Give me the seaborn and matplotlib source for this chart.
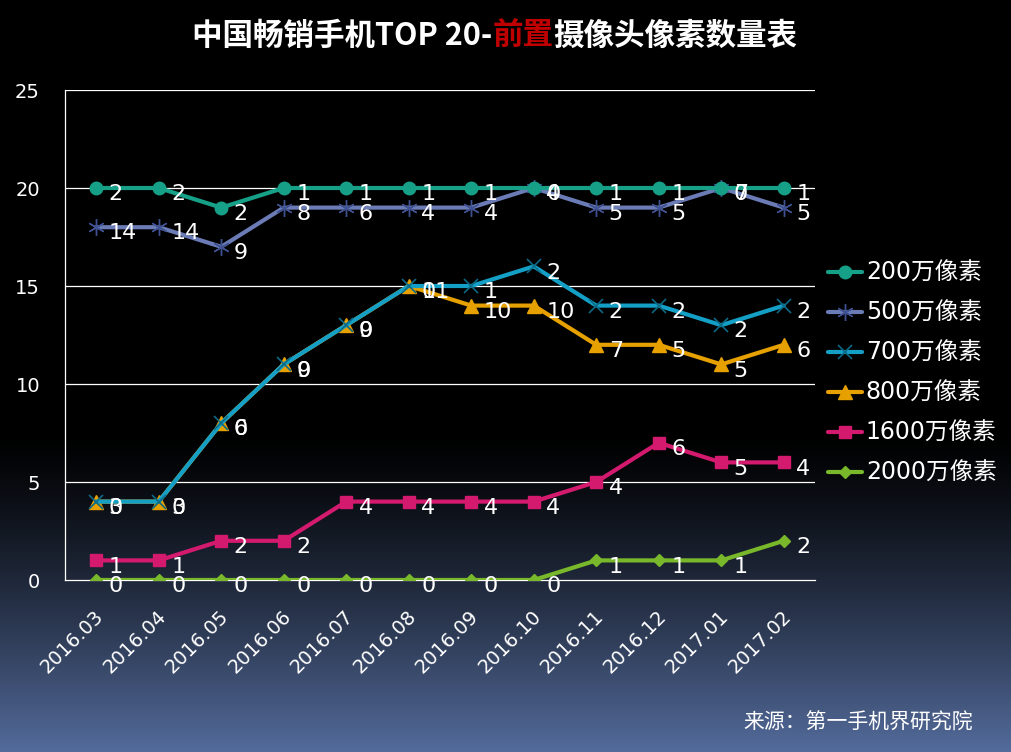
import numpy as np
import pandas as pd
import matplotlib
matplotlib.use("Agg")
import matplotlib.pyplot as plt
import matplotlib.transforms as mtransforms
from matplotlib.offsetbox import TextArea, HPacker, AnchoredOffsetbox
import seaborn as sns

# ---------------- data ----------------
months = ["2016.03", "2016.04", "2016.05", "2016.06", "2016.07", "2016.08",
          "2016.09", "2016.10", "2016.11", "2016.12", "2017.01", "2017.02"]
legend_order = ["200万像素", "500万像素", "700万像素", "800万像素", "1600万像素", "2000万像素"]
stack_order = ["2000万像素", "1600万像素", "800万像素", "700万像素", "500万像素", "200万像素"]

px_200 = [2, 2, 2, 1, 1, 1, 1, 0, 1, 1, 0, 1]
px_500 = [14, 14, 9, 8, 6, 4, 4, 4, 5, 5, 7, 5]
px_700 = [0, 0, 0, 0, 0, 0, 1, 2, 2, 2, 2, 2]
px_800 = [3, 3, 6, 9, 9, 11, 10, 10, 7, 5, 5, 6]
px_1600 = [1, 1, 2, 2, 4, 4, 4, 4, 4, 6, 5, 4]
px_2000 = [0, 0, 0, 0, 0, 0, 0, 0, 1, 1, 1, 2]

title_parts = ["中国畅销手机TOP 20-", "前置", "摄像头像素数量表"]
source_text = "来源：第一手机界研究院"

values = {
    "200万像素": px_200, "500万像素": px_500, "700万像素": px_700,
    "800万像素": px_800, "1600万像素": px_1600, "2000万像素": px_2000,
}

styles = {
    "200万像素": dict(color="#17A088", marker="o", markersize=9, mec="#17A088", mew=1),
    "500万像素": dict(color="#6A7BB5", marker=(6, 2, 0), markersize=12, mec="#3F5190", mew=1.0),
    "700万像素": dict(color="#14A0C6", marker="x", markersize=10, mec="#0C6A86", mew=1.2),
    "800万像素": dict(color="#E6A100", marker="^", markersize=10, mec="#E6A100", mew=1),
    "1600万像素": dict(color="#D41A6E", marker="s", markersize=9, mec="#D41A6E", mew=1),
    "2000万像素": dict(color="#78B82A", marker="D", markersize=6, mec="#78B82A", mew=1),
}

# stacked (cumulative) values
rows = []
cum = np.zeros(len(months))
for name in stack_order:
    v = np.array(values[name], dtype=float)
    cum = cum + v
    for i, m in enumerate(months):
        rows.append(dict(series=name, idx=i, month=m, value=v[i], cum=cum[i]))
df = pd.DataFrame(rows)

# ---------------- style ----------------
sns.set_theme(style="white")
plt.rcParams["font.family"] = ["DejaVu Sans", "Noto Sans CJK SC"]
plt.rcParams["axes.unicode_minus"] = False

fig = plt.figure(figsize=(10.12, 7.52), dpi=100)

# gradient background
bg = fig.add_axes([0, 0, 1, 1], zorder=-10)
H = 752
yy = np.arange(H)
t = np.clip((yy - 430) / (H - 430), 0, 1) ** 1.3
bottom = np.array([84, 108, 156]) / 255.0
grad = t[:, None] * bottom[None, :]
img = np.repeat(grad[:, None, :], 4, axis=1)
bg.imshow(img, aspect="auto", extent=[0, 1, 0, 1], origin="upper")
bg.set_axis_off()

ax = fig.add_axes([65 / 1012, 1 - 580 / 752, 750 / 1012, 490 / 752])
ax.set_facecolor("none")

zorders = {name: 10 - k for k, name in enumerate(legend_order)}
for name in stack_order:
    d = df[df.series == name]
    st = styles[name]
    sns.lineplot(data=d, x="idx", y="cum", ax=ax, color=st["color"],
                 marker=st["marker"], markersize=st["markersize"],
                 markeredgecolor=st["mec"], markeredgewidth=st["mew"],
                 markerfacecolor=st["color"],
                 linewidth=3, label=name, zorder=zorders[name], legend=True)
    for _, r in d.iterrows():
        ax.annotate(f"{int(r['value'])}", (r["idx"], r["cum"]),
                    xytext=(9, -4.5), textcoords="offset points",
                    ha="left", va="center", color="white", fontsize=16,
                    zorder=20)

ax.set_xlim(-0.5, 11.5)
ax.set_ylim(0, 25)
ax.set_yticks([0, 5, 10, 15, 20, 25])
ax.set_xticks(range(len(months)))
ax.set_xticklabels(months)
ax.set_xlabel("")
ax.set_ylabel("")
ax.grid(False)
for yv in [5, 10, 15, 20, 25]:
    ax.axhline(yv, color="white", lw=0.9, zorder=0.5)
for s in ["top", "right"]:
    ax.spines[s].set_visible(False)
for s in ["left", "bottom"]:
    ax.spines[s].set_visible(True)
    ax.spines[s].set_color("white")
    ax.spines[s].set_linewidth(0.9)

ax.tick_params(axis="y", length=0, pad=18, labelsize=14, colors="white")
ax.tick_params(axis="x", length=0, pad=19, labelsize=14, colors="white")
offset = mtransforms.ScaledTranslation(-2 / 100, 0, fig.dpi_scale_trans)
for lab in ax.get_xticklabels():
    lab.set_rotation(45)
    lab.set_ha("right")
    lab.set_va("top")
    lab.set_rotation_mode("anchor")
    lab.set_transform(lab.get_transform() + offset)

# legend
handles, labels = ax.get_legend_handles_labels()
hmap = dict(zip(labels, handles))
leg = ax.legend([hmap[n] for n in legend_order], legend_order,
                loc="center left", bbox_to_anchor=(828 / 1012, 1 - 373 / 752),
                bbox_transform=fig.transFigure, frameon=False, fontsize=17,
                labelspacing=0.68, handlelength=1.45, handletextpad=0.15,
                borderpad=0, borderaxespad=0)
for txt in leg.get_texts():
    txt.set_color("white")

# title with red part
tprops = dict(fontsize=22, fontweight="bold", family=["Noto Sans CJK SC", "DejaVu Sans"])
parts = [
    TextArea(title_parts[0], textprops=dict(color="white", **tprops)),
    TextArea(title_parts[1], textprops=dict(color="#C00000", **tprops)),
    TextArea(title_parts[2], textprops=dict(color="white", **tprops)),
]
box = HPacker(children=parts, align="baseline", pad=0, sep=0)
anch = AnchoredOffsetbox(loc="center", child=box, pad=0, borderpad=0, frameon=False,
                         bbox_to_anchor=(495 / 1012, 1 - 36 / 752),
                         bbox_transform=fig.transFigure)
anch.set_clip_on(False)
ax.add_artist(anch)

fig.text(973 / 1012, 1 - 723 / 752, source_text, ha="right", va="center",
         fontsize=15, color="white", family=["Noto Sans CJK SC", "DejaVu Sans"])

fig.savefig("out.png", dpi=100)
